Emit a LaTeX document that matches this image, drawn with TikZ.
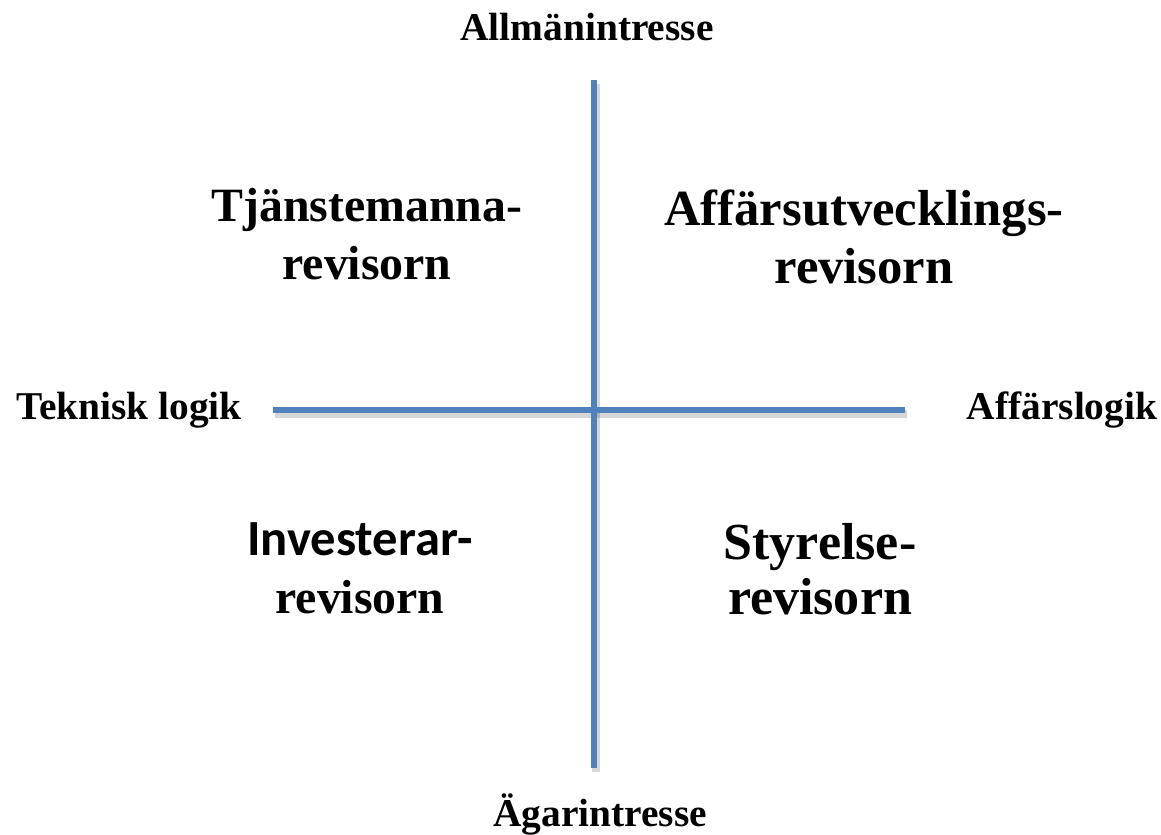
\documentclass[tikz,border=0pt]{standalone}
\usepackage{fontspec}
\setmainfont{Liberation Serif}
\newfontfamily\calfont{Carlito}
\usetikzlibrary{calc}
\definecolor{axisblue}{RGB}{79,129,189}
\tikzset{
	axis/.style={line width=4pt, color=axisblue},
	axisshadow/.style={line width=5pt, color=black, opacity=0.16},
	axislabel/.style={font=\bfseries\fontsize{28}{32}\selectfont, inner sep=0pt},
	quadlabel/.style={font=\bfseries\fontsize{36}{41}\selectfont, align=center, inner sep=0pt}
}

\begin{document}
\begin{tikzpicture}[x=0.025cm, y=-0.025cm]
			%%%%% START %%%%%
			\useasboundingbox (0, 0) rectangle (1161, 834);
			
			\coordinate (top) at (594, 80);
			\coordinate (bottom) at (594, 768);
			\coordinate (left) at (273, 410);
			\coordinate (right) at (905, 410);
			
			\draw[axisshadow] ($(top)+(2,4)$) -- ($(bottom)+(2,4)$);
			\draw[axisshadow] ($(left)+(2,4)$) -- ($(right)+(2,4)$);
			\draw[axis] (top) -- (bottom);
			\draw[axis] (left) -- (right);
			
			\node[axislabel] (allman) at (587, 27) {Allmänintresse};
			\node[axislabel] (agar) at (600, 814) {Ägarintresse};
			\node[axislabel] (teknisk) at (129, 410) {Teknisk logik};
			\node[axislabel] (affars) at (1062, 410) {Affärslogik};
			
			\node[quadlabel, font=\bfseries\fontsize{34}{41}\selectfont] (tjanst) at (367, 234) {Tjänstemanna-\\revisorn};
			\node[quadlabel] (affutv) at (864, 237) {Affärsutvecklings-\\revisorn};
			\node[quadlabel] (invest) at (360, 568) {{\calfont Investerar-}\\\fontsize{34}{41}\selectfont revisorn};
			\node[quadlabel, font=\bfseries\fontsize{37}{39}\selectfont] (styr) at (820, 569) {Styrelse-\\revisorn};
			
			%%%%% END %%%%%
		\end{tikzpicture}
\end{document}
